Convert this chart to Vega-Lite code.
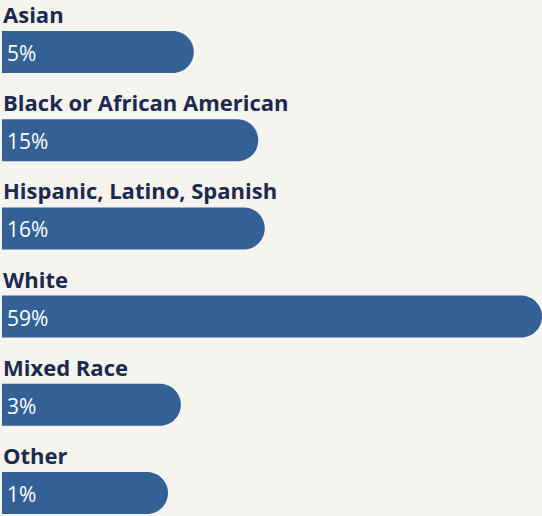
{
  "$schema": "https://vega.github.io/schema/vega-lite/v6.json",
  "width": 542,
  "height": 516,
  "autosize": {"type": "fit", "contains": "padding"},
  "padding": 0,
  "background": "#f5f4ef",
  "config": {"view": {"stroke": null}},
  "data": {
    "values": [
      {"group": "Asian", "pct": 5, "label": "5%"},
      {"group": "Black or African American", "pct": 15, "label": "15%"},
      {"group": "Hispanic, Latino, Spanish", "pct": 16, "label": "16%"},
      {"group": "White", "pct": 59, "label": "59%"},
      {"group": "Mixed Race", "pct": 3, "label": "3%"},
      {"group": "Other", "pct": 1, "label": "1%"}
    ]
  },
  "encoding": {
    "y": {
      "field": "group",
      "type": "nominal",
      "sort": null,
      "axis": null,
      "scale": {"paddingInner": 0.524, "paddingOuter": 0.187, "align": 0.94}
    }
  },
  "layer": [
    {
      "mark": {"type": "bar", "color": "#336196", "cornerRadiusTopRight": 21, "cornerRadiusBottomRight": 21},
      "encoding": {
        "x": {"field": "pct", "type": "quantitative", "axis": null, "scale": {"domain": [-25.05, 59], "nice": false, "zero": false}},
        "x2": {"datum": -24.74}
      }
    },
    {
      "mark": {"type": "text", "align": "left", "baseline": "alphabetic", "dy": -29, "font": "Open Sans", "fontWeight": "bold", "fontSize": 22, "color": "#1b2a4e"},
      "encoding": {
        "x": {"datum": -24.58},
        "text": {"field": "group"}
      }
    },
    {
      "mark": {"type": "text", "align": "left", "baseline": "alphabetic", "dy": 9, "font": "Open Sans", "fontWeight": 400, "fontSize": 21, "color": "#ffffff"},
      "encoding": {
        "x": {"datum": -23.95},
        "text": {"field": "label"}
      }
    }
  ]
}
